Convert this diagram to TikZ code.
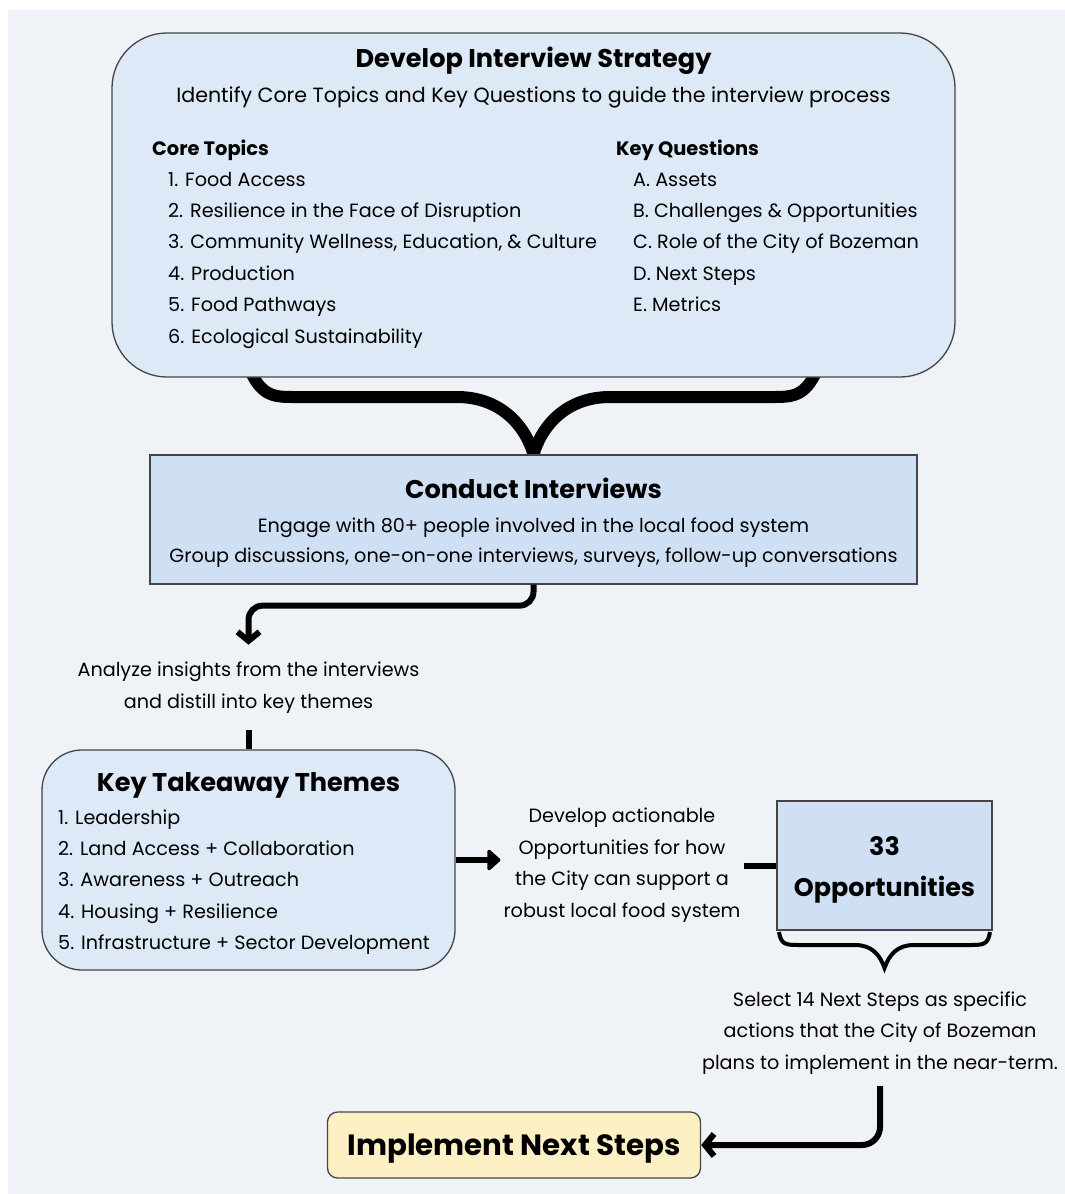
\documentclass[tikz,border=0pt]{standalone}
\usepackage{fontspec}
\setmainfont{Poppins}
\usetikzlibrary{arrows.meta,backgrounds}

\definecolor{panelgray}{HTML}{EFF2F7}
\definecolor{boxlight}{HTML}{DDE9F7}
\definecolor{boxdeep}{HTML}{CFE0F5}
\definecolor{boxyellow}{HTML}{FDF0C4}
\definecolor{edgegray}{HTML}{454545}

\begin{document}
\begin{tikzpicture}[x=1pt, y=-1pt,
    every node/.style={inner sep=0pt, font=\fontsize{19.2}{31.4}\selectfont},
    roundbox/.style={draw=edgegray, line width=1.3pt, fill=boxlight},
    flatbox/.style={draw=edgegray, line width=1.3pt, fill=boxdeep},
    titletext/.style={font=\fontsize{25.6}{30}\selectfont\bfseries},
    headtext/.style={font=\fontsize{19.4}{22}\selectfont\bfseries},
    flow/.style={line width=6pt, rounded corners=14pt},
    bigbrace/.style={line width=12pt, line join=miter},
    smallbrace/.style={line width=4pt, line join=miter}]
      % page and panel
      \useasboundingbox (0,0) rectangle (1065,1194);
      % Develop Interview Strategy box
      \node[roundbox, rounded corners=55pt, minimum width=843pt, minimum height=344pt] (strategy) at (533.5,205) {};
      \node[titletext, anchor=base] (strategytitle) at (533.5,67) {Develop Interview Strategy};
      \node[anchor=base, font=\fontsize{20.6}{24}\selectfont] (strategysub) at (533.5,102) {Identify Core Topics and Key Questions to guide the interview process};
      \node[headtext, anchor=base west] (topicshead) at (152,155) {Core Topics};
      % multi-line nodes sit on the baseline of their last line
      \node[anchor=base west, align=left] (topics) at (168,343) {1. Food Access\\2. Resilience in the Face of Disruption\\3. Community Wellness, Education, \& Culture\\4. Production\\5. Food Pathways\\6. Ecological Sustainability};
      \node[headtext, anchor=base west] (questionshead) at (616,155) {Key Questions};
      \node[anchor=base west, align=left] (questions) at (633,311.6) {A. Assets\\B. Challenges \& Opportunities\\C. Role of the City of Bozeman\\D. Next Steps\\E. Metrics};
      % Conduct Interviews box
      \node[flatbox, minimum width=767pt, minimum height=129pt] (conduct) at (533.5,519.5) {};
      \node[titletext, anchor=base] (conducttitle) at (533.5,498) {Conduct Interviews};
      \node[anchor=base, align=center, font=\fontsize{19.2}{30}\selectfont] (conducttext) at (533.5,562) {Engage with 80+ people involved in the local food system\\Group discussions, one-on-one interviews, surveys, follow-up conversations};
      % analysis step
      \node[anchor=base, align=center, inner ysep=17pt] (analyze) at (248.5,708) {Analyze insights from the interviews\\and distill into key themes};
      % Key Takeaway Themes box
      \node[roundbox, rounded corners=40pt, minimum width=413pt, minimum height=220pt] (takeaway) at (248.5,860) {};
      \node[titletext, anchor=base] (takeawaytitle) at (248.5,791) {Key Takeaway Themes};
      \node[anchor=base west, align=left] (themes) at (58,949.6) {1. Leadership\\2. Land Access + Collaboration\\3. Awareness + Outreach\\4. Housing + Resilience\\5. Infrastructure + Sector Development};
      % opportunities step
      \node[anchor=base, align=center, inner xsep=3pt] (develop) at (622,917) {Develop actionable\\Opportunities for how\\the City can support a\\robust local food system};
      \node[flatbox, minimum width=215pt, minimum height=129pt] (opps) at (884.5,865.5) {};
      \node[anchor=base, align=center, font=\fontsize{25.4}{41}\selectfont\bfseries] (oppstext) at (884.5,896) {33\\Opportunities};
      % next steps
      \node[anchor=base, align=center, inner ysep=12pt] (select) at (880,1069) {Select 14 Next Steps as specific\\actions that the City of Bozeman\\plans to implement in the near-term.};
      \node[draw=edgegray, line width=1.3pt, fill=boxyellow, rounded corners=10pt, minimum width=373pt, minimum height=66pt] (implement) at (514,1145) {};
      \node[anchor=base, font=\fontsize{29.3}{34}\selectfont\bfseries] (implementtext) at (514,1155) {Implement Next Steps};
      % connectors
      \draw[flow, -{Straight Barb[length=9pt, width=22pt]}] (conduct.south) -- ++(0,21) -| (analyze.north);
      \draw[line width=6pt] (analyze.south) -- (takeaway.north);
      \draw[line width=6pt, -{Triangle[round, length=14pt, width=24pt]}] (takeaway.east) -- (takeaway.east -| develop.west);
      \draw[line width=6pt] (develop.east |- opps.west) -- (opps.west);
      \draw[flow, rounded corners=18pt, -{Straight Barb[length=9pt, width=22pt]}] (select.south) |- (implement.east);
      \draw[smallbrace] (779,932) .. controls (781,945) and (786,945) .. (800,945) -- (855,945) .. controls (872,945) and (880,955) .. (884.5,968) .. controls (889,955) and (897,945) .. (914,945) -- (969,945) .. controls (983,945) and (988,945) .. (990,932);
      % brace from strategy into conduct, behind the boxes
      \begin{scope}[on background layer]
        \fill[white] (0,0) rectangle (1065,1194);
        \fill[panelgray] (8,10) rectangle (1065,1194);
        \draw[bigbrace] (250,370) .. controls (262,397) and (275,397) .. (295,397) -- (457,397) .. controls (500,397) and (525,425) .. (conduct.north) .. controls (542,425) and (567,397) .. (610,397) -- (772,397) .. controls (792,397) and (805,397) .. (817,370);
      \end{scope}
    \end{tikzpicture}
\end{document}
